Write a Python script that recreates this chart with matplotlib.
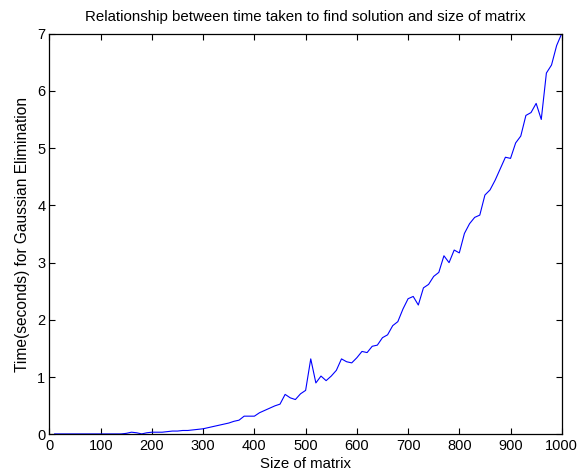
import matplotlib
matplotlib.use("Agg")
import matplotlib.pyplot as plt

plt.rcParams["font.family"] = ["Liberation Sans", "DejaVu Sans"]

# matrix sizes 10..1000 step 10, timings
sizes = list(range(10, 1001, 10))
times = [
    0.01, 0.01, 0.01, 0.01, 0.01, 0.01, 0.01, 0.01, 0.01, 0.01,
    0.01, 0.01, 0.01, 0.01, 0.02, 0.04, 0.03, 0.01, 0.03, 0.04,
    0.04, 0.04, 0.05, 0.06, 0.06, 0.07, 0.07, 0.08, 0.09, 0.10,
    0.12, 0.14, 0.16, 0.18, 0.20, 0.23, 0.25, 0.32, 0.32, 0.32,
    0.38, 0.42, 0.46, 0.50, 0.53, 0.70, 0.64, 0.61, 0.71, 0.77,
    1.32, 0.90, 1.02, 0.94, 1.02, 1.12, 1.32, 1.27, 1.25, 1.34,
    1.45, 1.43, 1.54, 1.56, 1.69, 1.74, 1.90, 1.97, 2.19, 2.37,
    2.41, 2.26, 2.56, 2.62, 2.76, 2.83, 3.12, 3.00, 3.22, 3.17,
    3.51, 3.68, 3.79, 3.83, 4.18, 4.27, 4.44, 4.64, 4.84, 4.82,
    5.09, 5.21, 5.57, 5.62, 5.78, 5.50, 6.31, 6.45, 6.79, 7.00,
]
xticks = list(range(0, 1001, 100))
yticks = list(range(0, 8))

fig = plt.figure(figsize=(5.87, 4.76), dpi=100)
ax = fig.add_axes([0.0843, 0.0872, 0.8727, 0.8424])

ax.plot(sizes, times, color=(0, 0, 1), linewidth=0.8)

ax.set_xlim(0, 1000)
ax.set_ylim(0, 7)
ax.set_xticks(xticks)
ax.set_yticks(yticks)
ax.tick_params(direction="in", length=4, width=0.8, top=True, right=True,
               labelsize=10.5, pad=3)
for s in ax.spines.values():
    s.set_linewidth(0.9)

ax.set_title("Relationship between time taken to find solution and size of matrix",
             fontsize=10.8, pad=9)
ax.set_xlabel("Size of matrix", fontsize=10.8, labelpad=3)
ax.set_ylabel("Time(seconds) for Gaussian Elimination", fontsize=11.2, labelpad=5)

fig.savefig("out.png", dpi=100)
